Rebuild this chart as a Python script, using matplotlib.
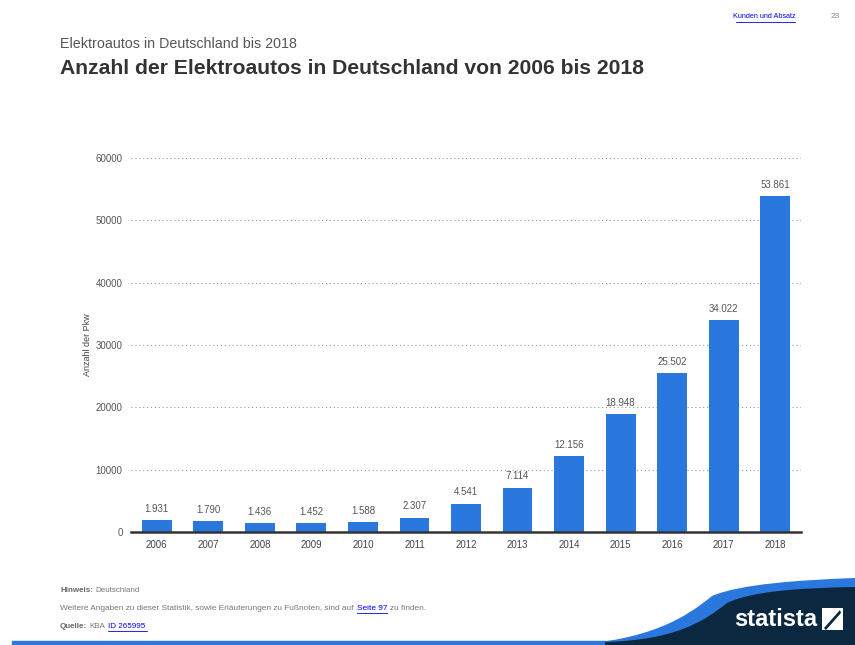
import matplotlib
matplotlib.use("Agg")
import matplotlib.pyplot as plt
from matplotlib.path import Path
from matplotlib.patches import PathPatch, Rectangle, Polygon

plt.rcParams['font.family'] = ['Liberation Sans', 'DejaVu Sans']

years = ["2006", "2007", "2008", "2009", "2010", "2011", "2012",
         "2013", "2014", "2015", "2016", "2017", "2018"]
values = [1931, 1790, 1436, 1452, 1588, 2307, 4541, 7114, 12156,
          18948, 25502, 34022, 53861]
yticks = [0, 10000, 20000, 30000, 40000, 50000, 60000]

W, H = 855, 645
fig = plt.figure(figsize=(W / 100, H / 100), dpi=100)
fig.patch.set_facecolor('white')

def px(x, y):
    return (x / W, 1 - y / H)

ax = fig.add_axes([131 / W, (H - 532) / H, 670 / W, 374 / H])
x = range(len(years))
bars = ax.bar(x, values, width=0.58, color='#2a77dd', zorder=3)
for xi, v in zip(x, values):
    label = f"{v:,}".replace(",", ".")
    ax.text(xi, v + 1000, label, ha='center', va='bottom', fontsize=7, color='#555555')

ax.set_xlim(-0.5, len(years) - 0.5)
ax.set_ylim(0, 60000)
ax.set_yticks(yticks)
ax.set_yticklabels([str(t) for t in yticks], fontsize=7, color='#555555')
ax.set_xticks(list(x))
ax.set_xticklabels(years, fontsize=7, color='#444444')
ax.tick_params(axis='both', length=0)
ax.tick_params(axis='y', pad=6)
ax.tick_params(axis='x', pad=6)
for s in ['top', 'right', 'left']:
    ax.spines[s].set_visible(False)
ax.spines['bottom'].set_color('#333333')
ax.spines['bottom'].set_linewidth(1.8)
ax.spines['bottom'].set_zorder(4)
ax.yaxis.grid(True, linestyle=(0, (1, 2.5)), color='#999999', linewidth=0.8, zorder=0)
ax.set_axisbelow(True)
ax.set_ylabel("Anzahl der Pkw", fontsize=6.5, color='#444444', labelpad=3)

# header
fig.text(*px(60, 44), "Elektroautos in Deutschland bis 2018", fontsize=10.3, color='#555555', va='center')
fig.text(*px(60, 69), "Anzahl der Elektroautos in Deutschland von 2006 bis 2018", fontsize=15.2,
         fontweight='bold', color='#333333', va='center')
fig.text(*px(795, 17), "Kunden und Absatz", fontsize=5.2, color='#0000ee', va='center', ha='right')
fig.add_artist(plt.Line2D([736 / W, 795 / W], [1 - 21.5 / H, 1 - 21.5 / H], color='#0000ee', linewidth=0.6))
fig.text(*px(840, 17), "23", fontsize=6, color='#888888', va='center', ha='right')

# footer texts
fig.text(*px(60, 591), "Hinweis:", fontsize=5.8, color='#666666', fontweight='bold', va='center')
fig.text(*px(95, 591), "Deutschland", fontsize=5.8, color='#777777', va='center')
fig.text(*px(60, 609), "Weitere Angaben zu dieser Statistik, sowie Erläuterungen zu Fußnoten, sind auf",
         fontsize=5.95, color='#777777', va='center')
fig.text(*px(357, 609), "Seite 97", fontsize=5.95, color='#0000ee', va='center')
fig.add_artist(plt.Line2D([357 / W, 387 / W], [1 - 613 / H, 1 - 613 / H], color='#0000ee', linewidth=0.6))
fig.text(*px(390, 609), "zu finden.", fontsize=5.95, color='#777777', va='center')
fig.text(*px(60, 627), "Quelle:", fontsize=5.8, color='#666666', fontweight='bold', va='center')
fig.text(*px(89, 627), "KBA", fontsize=5.8, color='#777777', va='center')
fig.text(*px(108, 627), "ID 265995", fontsize=5.8, color='#0000ee', va='center')
fig.add_artist(plt.Line2D([108 / W, 147 / W], [1 - 631 / H, 1 - 631 / H], color='#0000ee', linewidth=0.6))

# bottom band and statista shape
fig.add_artist(Rectangle(px(12, 645), (W - 12) / W, 4 / H, transform=fig.transFigure,
                         color='#2a77dd', zorder=1))
blue = [px(570, 645), px(650, 640), px(685, 618), px(712, 596),
        px(740, 584), px(800, 580), px(855, 578), px(855, 645)]
verts_b = blue + [blue[0]]
codes_b = [Path.MOVETO, Path.CURVE4, Path.CURVE4, Path.CURVE4, Path.CURVE4, Path.CURVE4,
           Path.LINETO, Path.LINETO, Path.CLOSEPOLY]
fig.add_artist(PathPatch(Path(verts_b, codes_b), transform=fig.transFigure,
                         facecolor='#2a77dd', edgecolor='none', zorder=1))
navy = [px(605, 642), px(675, 640), px(703, 622), px(727, 603),
        px(752, 591), px(800, 588), px(855, 587), px(855, 645), px(605, 645)]
codes_n = [Path.MOVETO, Path.CURVE4, Path.CURVE4, Path.CURVE4, Path.CURVE4, Path.CURVE4,
           Path.LINETO, Path.LINETO, Path.LINETO, Path.CLOSEPOLY]
verts_n = navy + [navy[0]]
fig.add_artist(PathPatch(Path(verts_n, codes_n), transform=fig.transFigure,
                         facecolor='#0b2840', edgecolor='none', zorder=2))
fig.text(*px(776, 619), "statista", fontsize=17, color='white', fontweight='bold',
         ha='center', va='center', zorder=3)
# logo icon
fig.add_artist(Rectangle(px(822, 630), 21 / W, 22 / H, transform=fig.transFigure,
                         facecolor='white', edgecolor='none', zorder=3))
fig.add_artist(Polygon([px(824, 628), px(840, 610), px(841, 613), px(826, 630)],
                       closed=True, transform=fig.transFigure, facecolor='#0b2840',
                       edgecolor='none', zorder=4))

fig.savefig("out.png", dpi=100)
